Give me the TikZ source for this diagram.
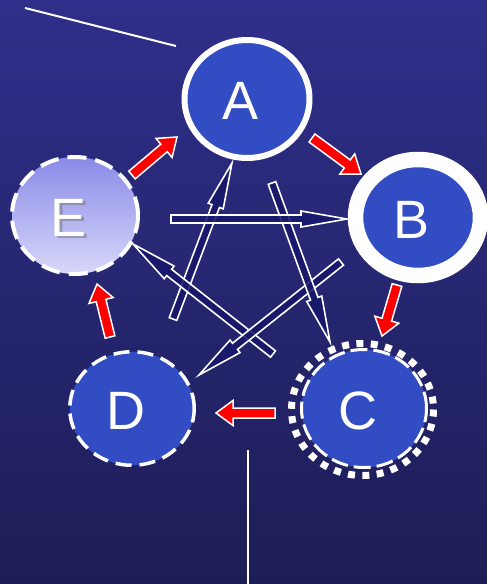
\documentclass[tikz,border=0pt]{standalone}
\usepackage{fontspec}
\setmainfont{Liberation Sans}
\usetikzlibrary{calc,shapes.geometric}

\definecolor{bgtop}{RGB}{47,47,139}
\definecolor{bgbot}{RGB}{29,29,86}
\definecolor{nodeblue}{RGB}{50,76,196}
\definecolor{etop}{RGB}{138,138,232}
\definecolor{ebot}{RGB}{216,216,250}
\definecolor{starnavy}{RGB}{24,24,108}

% #1 style, #2 tail, #3 tip, #4 half shaft, #5 half head, #6 head length
\newcommand{\blockarrow}[6]{%
	\coordinate (hb) at ($(#3)!#6!(#2)$);
	\filldraw[#1] ($(#2)!#4!90:(#3)$) -- ($(hb)!#4!90:(#3)$) -- ($(hb)!#5!90:(#3)$) -- (#3)
		-- ($(hb)!#5!-90:(#3)$) -- ($(hb)!#4!-90:(#3)$) -- ($(#2)!#4!-90:(#3)$) -- cycle;}

\begin{document}
\begin{tikzpicture}[line join=miter,x=1pt,y=-1pt,
		state/.style={ellipse,inner sep=0pt,fill=nodeblue,draw=white},
		letter/.style={text=white,font=\fontsize{54}{60}\selectfont,xshift=-6pt,yshift=-2pt},
		redarrow/.style={fill=red,draw=white,line width=1.5pt},
		stararrow/.style={fill=starnavy,fill opacity=0.88,draw=white,line width=1.6pt}]
	\useasboundingbox (0,0) rectangle (487,584);
	\shade[top color=bgtop,bottom color=bgbot] (0,0) rectangle (487,584);
	% loose lines
	\coordinate (l1) at (25,8);
	\coordinate (l2) at (176,46);
	\coordinate (l3) at (248,450);
	\coordinate (l4) at (248,584);
	\draw [white,line width=2pt] (l1) -- (l2);
	\draw [white,line width=2pt] (l3) -- (l4);
	% the five states
	\node[state,line width=6pt,minimum width=125pt,minimum height=118pt,label={[letter]center:A}] (A) at (247,99) {};
	\node[state,line width=15.5pt,minimum width=125pt,minimum height=116pt,label={[letter]center:B}] (B) at (418,217.5) {};
	\node[state,line width=4pt,dash pattern=on 19pt off 9pt,top color=etop,bottom color=ebot,minimum width=126pt,minimum height=117pt,
		label={[letter,text=black!55,opacity=0.5,xshift=2.5pt,yshift=-2.5pt]center:E},label={[letter]center:E}] (E) at (75,215.5) {};
	\node[state,line width=3.5pt,dash pattern=on 16pt off 8pt,minimum width=124.5pt,minimum height=113.5pt,label={[letter]center:D}] (D) at (132,408.5) {};
	\node[state,line width=3pt,dash pattern=on 17pt off 6pt,minimum width=125pt,minimum height=118pt,label={[letter]center:C}] (C) at (364,408.5) {};
	\draw [white,line width=7pt,dash pattern=on 7pt off 7.4pt] (362.5,409.5) ellipse (71 and 66);
	% star of arrows
	\coordinate (eb1) at (171,219);
	\coordinate (eb2) at (347,219);
	\coordinate (da1) at (173,319);
	\coordinate (da2) at (232,163);
	\coordinate (ac1) at (272,183);
	\coordinate (ac2) at (330,342);
	\coordinate (bd1) at (341,262);
	\coordinate (bd2) at (199,375);
	\coordinate (ce1) at (273,354);
	\coordinate (ce2) at (133,244);
	\blockarrow{stararrow}{da1}{da2}{4pt}{8pt}{46pt}
	\blockarrow{stararrow}{ce1}{ce2}{4pt}{8pt}{46pt}
	\blockarrow{stararrow}{bd1}{bd2}{4pt}{8pt}{46pt}
	\blockarrow{stararrow}{ac1}{ac2}{4pt}{8pt}{46pt}
	\blockarrow{stararrow}{eb1}{eb2}{4pt}{8pt}{46pt}
	% red cycle
	\coordinate (ea1) at (132,175);
	\coordinate (ea2) at (177,137);
	\coordinate (ab1) at (312,138);
	\coordinate (ab2) at (361,174);
	\coordinate (bc1) at (397,285);
	\coordinate (bc2) at (382,336);
	\coordinate (cd1) at (275,413);
	\coordinate (cd2) at (216,413);
	\coordinate (de1) at (110,337);
	\coordinate (de2) at (97,284);
	\foreach \t/\h in {ea1/ea2,ab1/ab2,bc1/bc2,cd1/cd2,de1/de2}{
		\blockarrow{redarrow}{\t}{\h}{5pt}{12.5pt}{17pt}
	}
\end{tikzpicture}
\end{document}
